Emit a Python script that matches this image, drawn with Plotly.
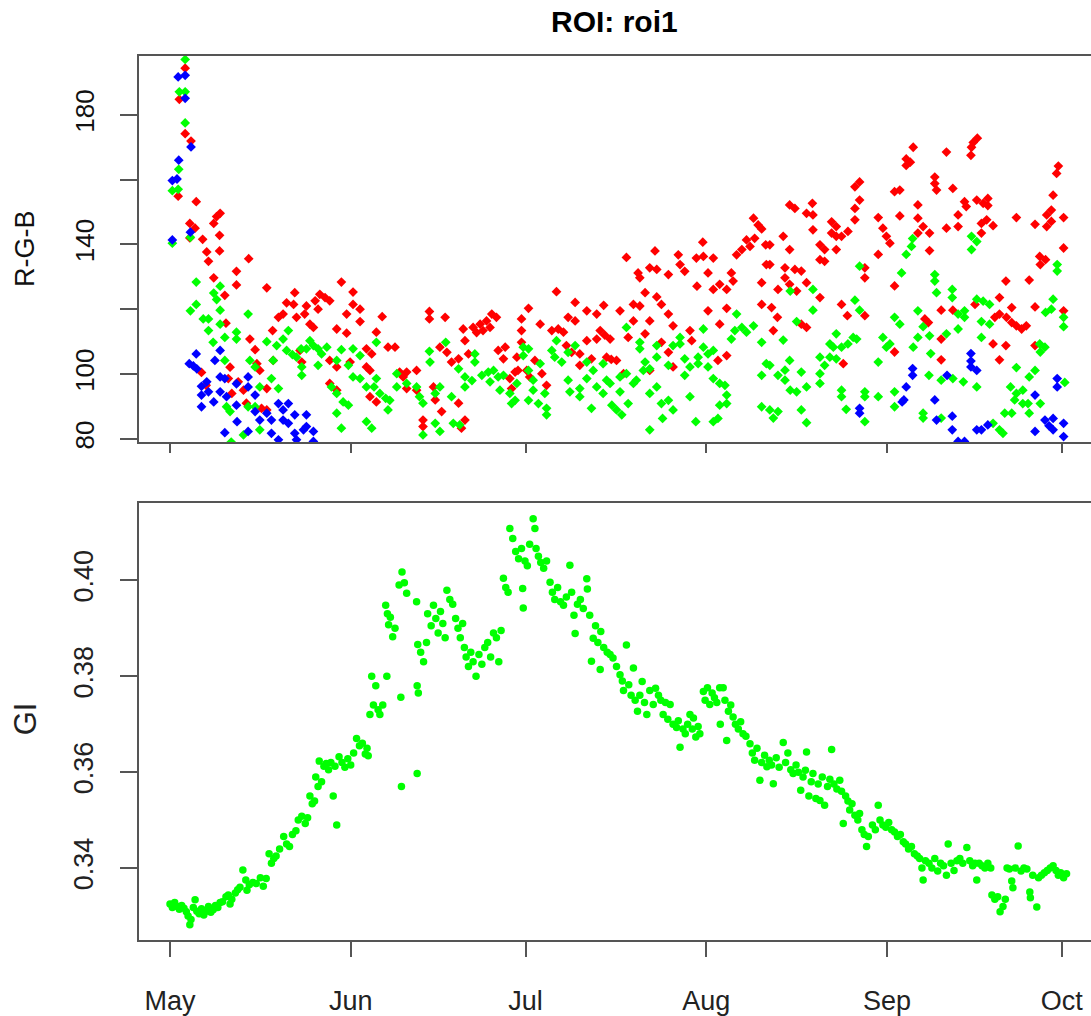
import pandas as pd
import plotly.graph_objects as go

# ---------------- data (day offset from 1 May, value) ----------------
START_DATE = "2015-05-01"
MONTH_TICKS = ["2015-05-01", "2015-06-01", "2015-07-01", "2015-08-01", "2015-09-01", "2015-10-01"]
MONTH_LABELS = ["May", "Jun", "Jul", "Aug", "Sep", "Oct"]

RGB_TICKS = [80, 100, 120, 140, 160, 180]
RGB_TICK_TEXT = ["80", "100", "", "140", "", "180"]
GI_TICKS = [0.34, 0.36, 0.38, 0.40]
GI_TICK_TEXT = ["0.34", "0.36", "0.38", "0.40"]

RED = [
    (1.4, 154.9), (1.6, 184.8), (2.6, 194.4), (2.6, 174.2), (3.6, 171.9),
    (4.5, 153.2), (3.4, 146.5), (4.3, 145.0), (3.4, 142.0), (5.6, 141.6), (7.5, 146.5), (8.0, 148.6),
    (8.6, 149.6), (8.5, 142.8), (8.5, 138.0), (6.3, 137.7), (6.6, 134.8), (7.5, 129.7), (9.4, 124.3),
    (11.4, 131.7), (11.4, 127.5), (13.5, 135.6), (16.6, 126.6), (9.6, 115.7), (13.7, 110.8), (14.6, 107.5),
    (14.9, 103.2), (15.4, 101.1), (10.3, 102.1), (10.0, 98.6), (10.6, 94.0), (11.7, 97.6), (12.6, 95.0),
    (13.1, 91.0), (15.7, 89.4), (16.6, 88.9), (16.6, 95.5), (17.6, 113.4), (17.7, 104.2), (18.6, 117.5),
    (19.4, 118.5), (20.0, 122.0), (21.4, 125.1), (21.2, 121.5), (21.7, 117.5), (23.1, 118.5), (23.4, 121.0),
    (24.0, 115.4), (24.6, 114.4), (24.9, 122.6), (25.7, 124.6), (26.6, 123.6), (27.4, 122.6), (25.4, 120.0),
    (22.3, 107.3), (22.6, 103.7), (29.4, 128.4), (31.4, 125.3), (28.6, 113.9), (30.3, 118.5), (30.3, 112.6),
    (31.4, 121.5), (32.6, 120.0), (32.6, 116.2), (27.4, 104.2), (28.6, 102.2), (27.4, 97.1), (28.6, 95.0),
    (30.9, 103.7), (33.7, 107.8), (34.6, 106.2), (33.7, 102.2), (34.3, 101.1), (35.4, 112.9), (36.4, 117.7),
    (34.3, 93.0), (35.4, 91.4), (37.4, 108.3), (38.6, 108.3), (39.4, 100.6), (40.6, 100.6), (40.0, 99.1),
    (40.6, 95.5), (42.3, 101.1), (42.3, 95.0), (43.4, 85.8), (43.4, 83.8), (44.5, 119.3), (44.5, 117.0),
    (45.2, 96.0), (45.5, 92.0), (46.3, 108.3), (47.2, 117.5), (47.5, 106.7), (46.6, 88.4), (49.5, 91.0),
    (48.3, 103.7), (49.5, 104.7), (50.3, 113.9), (50.6, 110.3), (51.2, 106.2), (50.6, 85.8), (50.0, 83.3),
    (5.4, 100.5), (6.2, 96.5),
    (52.0, 114.4), (53.2, 115.4), (54.3, 116.4), (55.2, 118.5), (56.0, 117.5), (53.7, 113.4), (54.9, 114.4),
    (52.6, 112.8), (56.3, 107.3), (57.5, 108.3), (57.2, 104.7), (58.3, 98.6), (59.2, 100.6), (59.7, 101.1),
    (58.6, 95.5), (59.5, 105.2), (60.3, 117.0), (60.3, 113.4), (61.5, 120.3), (60.3, 109.8), (61.2, 101.1),
    (61.7, 99.1), (62.6, 104.2), (63.5, 115.4), (63.8, 100.1), (64.6, 96.5), (65.5, 113.4), (66.6, 113.9),
    (67.5, 112.9), (66.3, 125.4), (68.3, 117.5), (69.5, 116.4), (69.5, 122.1), (68.0, 108.8), (68.9, 106.7),
    (70.3, 106.2), (70.3, 102.7), (71.5, 119.5), (71.5, 110.3), (72.3, 104.7), (73.2, 110.8), (73.2, 118.5),
    (74.4, 121.2), (73.8, 113.4), (74.6, 112.0), (75.5, 110.8), (74.9, 105.2), (75.7, 104.5), (76.6, 104.2),
    (77.2, 119.5), (77.8, 100.1), (78.3, 136.0), (78.6, 111.3), (79.5, 116.4), (79.5, 121.5), (80.6, 121.0),
    (80.3, 131.2), (80.6, 129.7), (81.5, 125.1), (81.5, 112.4), (82.3, 132.8), (83.5, 132.3), (83.2, 138.0),
    (82.3, 116.4), (82.3, 101.1), (83.5, 123.8), (84.3, 121.5), (84.3, 109.8), (85.5, 130.7), (85.5, 118.5),
    (86.3, 114.9), (85.5, 106.7), (86.3, 102.2), (87.2, 136.8), (87.5, 133.8), (88.3, 131.7), (89.2, 113.4),
    (89.5, 110.3), (90.3, 135.8), (90.4, 127.1), (91.4, 140.7), (91.5, 136.3), (92.3, 131.2), (93.2, 135.8),
    (92.3, 119.5), (93.2, 126.1), (94.3, 115.4), (94.0, 104.2), (95.5, 105.7), (94.3, 127.7), (95.5, 126.1),
    (95.5, 120.3), (96.3, 131.2), (96.6, 128.7), (97.2, 136.8), (98.1, 138.4), (98.9, 141.4), (99.5, 139.4),
    (100.3, 141.9), (100.1, 148.1), (100.9, 146.0), (101.5, 144.8), (102.2, 139.9), (102.3, 133.8),
    (101.5, 128.2), (101.5, 121.5),
    (102.9, 139.9), (102.9, 133.8), (105.2, 142.5), (106.3, 138.4), (105.5, 132.8), (105.5, 129.7),
    (104.3, 126.1), (103.2, 120.5), (104.2, 117.5), (103.5, 113.4), (106.3, 127.7), (107.5, 125.6),
    (107.2, 132.3), (108.3, 131.8), (109.2, 128.2), (111.5, 123.6), (106.3, 152.2), (107.2, 151.1),
    (109.2, 149.6), (110.3, 149.1), (110.2, 152.7), (110.3, 144.5), (111.5, 139.9), (112.3, 138.4),
    (111.5, 135.3), (112.3, 134.8), (113.5, 147.0), (114.3, 145.5), (113.5, 143.5), (114.3, 142.5),
    (115.2, 142.5), (116.3, 144.0), (114.3, 138.4), (108.3, 115.4), (109.2, 114.4), (115.2, 121.5),
    (116.2, 118.0), (115.5, 103.2), (117.5, 147.6), (117.5, 151.1), (118.3, 159.3), (117.5, 157.8),
    (118.3, 153.7), (119.2, 132.8), (119.2, 129.7), (119.2, 118.0), (121.5, 148.3), (121.5, 136.9),
    (122.3, 145.0), (122.9, 142.5), (123.5, 140.4), (124.3, 156.3), (125.2, 156.8), (125.2, 148.8),
    (124.3, 127.2), (124.3, 106.8), (126.3, 166.4), (127.0, 165.4), (127.5, 170.0), (126.3, 164.4),
    (128.3, 152.2), (128.3, 148.1), (129.2, 145.5), (128.3, 143.5), (130.3, 143.5), (130.3, 138.1),
    (131.2, 160.8), (131.5, 156.8), (131.2, 158.8), (133.2, 168.5), (134.3, 157.3), (133.2, 145.0),
    (135.2, 149.1), (135.2, 145.5), (136.3, 153.2), (136.6, 151.7), (137.4, 167.5), (137.5, 170.0),
    (137.8, 171.5), (138.5, 172.8), (138.4, 153.7), (139.5, 152.7), (140.3, 154.2), (140.3, 152.0),
    (139.2, 146.5), (140.1, 147.6), (141.2, 145.8), (139.2, 143.5), (132.3, 119.7), (134.3, 119.7),
    (132.3, 110.8), (132.3, 104.4), (130.1, 115.9), (129.5, 117.0), (138.1, 121.5), (141.5, 117.5),
    (142.3, 118.5), (143.5, 117.5), (144.4, 115.9), (145.2, 114.9), (146.1, 113.9), (146.9, 114.9),
    (141.2, 109.3), (142.3, 104.4), (143.4, 108.8), (143.4, 128.7), (142.3, 123.6), (144.4, 120.5),
    (145.2, 148.3), (147.4, 129.0), (148.4, 120.7), (148.4, 146.2), (148.4, 108.8), (149.2, 136.3),
    (150.2, 135.3), (149.3, 133.8), (150.4, 149.1), (150.4, 145.5), (151.2, 150.6), (151.2, 147.1),
    (151.5, 155.2), (152.1, 161.9), (152.4, 164.2), (153.3, 148.3), (153.3, 138.9), (153.3, 119.5),
]

GREEN = [
    (0.4, 140.4), (0.4, 156.6), (1.4, 157.0), (1.5, 163.2), (1.6, 187.1), (2.6, 197.1), (2.6, 187.1),
    (2.6, 177.5), (3.5, 142.2), (4.5, 128.4), (4.5, 121.5), (3.5, 119.5), (8.6, 127.1), (7.5, 125.0),
    (8.0, 123.0), (5.7, 117.0), (6.6, 117.0), (6.6, 113.4), (8.6, 119.7), (8.6, 115.4), (11.4, 112.9),
    (11.4, 110.8), (9.4, 111.3), (7.4, 109.8), (9.4, 104.2), (13.4, 118.5), (13.7, 104.2), (14.6, 102.2),
    (16.6, 110.0), (17.7, 104.2), (17.4, 98.6), (18.6, 95.5), (15.4, 96.0), (14.6, 89.9), (15.4, 82.8),
    (9.7, 89.9), (10.3, 88.4), (12.6, 81.2), (13.4, 89.9), (10.5, 79.0), (18.3, 108.8), (19.4, 110.8),
    (20.3, 113.4), (20.0, 107.3), (21.0, 106.0), (21.7, 105.2), (22.5, 107.8), (23.4, 107.8), (22.6, 102.2),
    (22.6, 99.6), (24.0, 110.3), (24.6, 108.8), (25.4, 107.8), (26.0, 106.2), (26.9, 108.3), (25.4, 102.7),
    (27.7, 96.0), (28.6, 94.0), (28.6, 87.9), (29.4, 83.3), (28.6, 104.2), (29.4, 107.5), (30.6, 102.7),
    (29.7, 91.4), (30.6, 90.4), (31.4, 107.8), (32.6, 105.7), (31.4, 99.1), (32.6, 98.6), (33.7, 96.0),
    (33.7, 85.3), (34.6, 83.3), (35.4, 109.8), (35.4, 98.6), (35.0, 96.0), (36.0, 94.0), (37.0, 92.5),
    (37.7, 91.9), (37.4, 88.9), (38.9, 100.1), (38.9, 96.0), (40.6, 97.1), (42.3, 96.0), (42.8, 93.0),
    (43.4, 91.0), (43.4, 81.2), (44.5, 107.0), (44.6, 103.7), (45.5, 94.0), (46.3, 96.0), (45.5, 84.8),
    (46.3, 82.3), (47.3, 109.8), (48.3, 93.0), (48.6, 84.8), (49.7, 84.3), (49.5, 101.6), (50.6, 99.1),
    (50.6, 96.0),
    (52.3, 106.2), (52.3, 103.7), (53.5, 99.6), (54.6, 100.6), (55.5, 101.1), (56.3, 99.1), (57.2, 99.6),
    (54.9, 97.6), (51.8, 98.0), (56.6, 95.0), (58.6, 90.9), (59.2, 91.9), (58.3, 94.0), (59.5, 97.1),
    (60.6, 108.3), (61.5, 107.8), (60.6, 105.7), (61.5, 101.1), (61.5, 91.9), (62.3, 98.1), (62.3, 95.0),
    (63.2, 90.9), (63.5, 103.2), (64.3, 94.0), (64.6, 89.4), (64.6, 87.4), (65.5, 107.3), (66.3, 110.3),
    (66.0, 105.2), (67.2, 103.7), (68.3, 106.7), (69.5, 108.8), (68.3, 98.1), (68.6, 94.5), (70.3, 95.5),
    (70.3, 93.0), (71.5, 98.6), (71.5, 103.7), (72.6, 101.1), (73.2, 96.0), (72.3, 89.4), (74.3, 94.0),
    (74.3, 103.2), (74.9, 98.1), (75.5, 97.1), (75.8, 90.4), (76.6, 88.9), (77.5, 87.4), (77.2, 99.1),
    (77.2, 94.5), (78.3, 114.4), (78.3, 100.1), (78.6, 90.9), (79.5, 97.1), (80.0, 98.1), (80.6, 109.8),
    (80.6, 107.8), (81.5, 103.7), (81.2, 101.1), (82.3, 101.6), (82.3, 94.0), (82.3, 82.8), (83.5, 96.0),
    (83.5, 108.8), (83.5, 105.2), (84.3, 90.9), (84.5, 86.3), (85.5, 91.9), (86.3, 88.9), (85.5, 102.7),
    (86.3, 108.8), (87.5, 111.3), (87.5, 109.3), (88.3, 104.7), (88.3, 99.6), (89.2, 102.2), (89.2, 93.0),
    (90.2, 85.3), (90.6, 105.2), (90.6, 103.2), (91.5, 113.9), (91.5, 108.3), (92.3, 106.2), (92.3, 102.2),
    (93.2, 107.3), (93.2, 98.6), (94.3, 97.1), (95.2, 96.5), (94.3, 90.4), (95.5, 93.5), (95.5, 90.9),
    (93.2, 85.3), (94.0, 86.3), (96.3, 110.8), (97.2, 118.5), (96.9, 113.4), (98.1, 114.4), (98.9, 112.9),
    (100.1, 114.9), (101.5, 109.8), (101.5, 99.6), (102.3, 103.2), (101.5, 89.9),
    (102.9, 102.7), (104.3, 99.6), (102.9, 88.9), (103.5, 86.4), (104.3, 88.4), (105.2, 110.5),
    (106.3, 104.2), (105.5, 101.2), (105.5, 98.1), (106.4, 125.6), (107.5, 116.2), (106.4, 95.0),
    (107.5, 94.5), (108.3, 100.6), (108.3, 88.9), (109.2, 85.0), (109.2, 96.0), (110.3, 119.7),
    (110.3, 126.1), (111.5, 105.2), (111.5, 100.1), (111.5, 97.1), (112.3, 102.7), (113.2, 109.3),
    (114.3, 112.4), (113.8, 108.3), (113.2, 105.2), (114.3, 104.7), (115.2, 108.3), (116.3, 109.3),
    (117.2, 111.3), (117.8, 110.8), (115.2, 95.0), (115.2, 93.0), (116.0, 89.1), (117.5, 122.8),
    (118.3, 133.3), (118.3, 119.7), (119.2, 94.5), (119.2, 93.0), (119.2, 85.3), (121.5, 93.0),
    (121.5, 103.7), (122.3, 111.3), (122.9, 108.3), (123.5, 109.3), (124.3, 117.5), (125.2, 115.4),
    (124.3, 94.5), (124.3, 89.9), (125.5, 131.2), (126.3, 136.9), (127.2, 139.4), (127.4, 141.8),
    (127.5, 108.3), (128.3, 111.3), (128.3, 119.5), (129.2, 114.6), (130.3, 111.8), (130.5, 106.3),
    (129.2, 87.9), (129.2, 86.4), (131.2, 130.7), (131.2, 128.7), (131.5, 125.1), (130.2, 99.6),
    (132.3, 98.1), (132.3, 86.4), (133.2, 112.4), (134.3, 98.6), (134.2, 126.1), (134.2, 123.6),
    (135.2, 118.5), (135.2, 113.9), (136.3, 119.5), (136.3, 117.5), (136.1, 97.6), (138.4, 96.0),
    (137.5, 142.5), (137.5, 138.4), (138.4, 140.9), (138.4, 123.1), (139.5, 122.5), (140.6, 121.5),
    (139.2, 116.2), (140.6, 115.4), (139.2, 111.3), (141.2, 84.8), (142.3, 82.8), (142.9, 81.7),
    (143.2, 87.9), (144.4, 87.9), (144.2, 96.0), (145.2, 94.0), (145.2, 102.0), (146.3, 95.0),
    (144.9, 92.0), (146.3, 90.9), (147.2, 90.9), (147.4, 87.9), (147.4, 99.1), (148.4, 101.1),
    (149.3, 90.9), (149.2, 109.3), (150.1, 108.3), (149.3, 106.8), (150.2, 119.0), (151.2, 120.0),
    (151.5, 123.1), (152.2, 133.8), (152.2, 131.8), (153.3, 117.5), (153.3, 114.6), (153.5, 97.4),
]

BLUE = [
    (0.4, 141.4), (0.4, 159.7), (1.2, 160.2), (1.5, 166.0), (1.4, 191.7), (2.6, 192.2), (2.6, 185.1),
    (3.6, 170.1), (3.5, 143.8), (4.5, 106.2), (3.3, 103.2), (4.0, 102.5), (4.6, 101.6), (8.6, 107.3),
    (7.7, 104.2), (5.4, 96.2), (6.3, 97.6), (5.4, 93.5), (6.6, 94.5), (5.4, 89.9), (7.5, 91.4),
    (8.6, 99.1), (9.4, 98.6), (8.6, 94.5), (9.7, 93.0), (11.4, 97.0), (11.4, 90.4), (13.4, 99.1),
    (13.4, 96.0), (9.4, 81.9), (11.5, 85.3), (13.4, 82.3), (14.6, 93.5), (14.6, 88.4), (15.4, 85.8),
    (16.6, 87.9), (17.4, 85.8), (17.4, 81.7), (18.6, 90.9), (19.4, 88.9), (19.4, 85.8), (20.3, 90.9),
    (20.3, 84.8), (18.6, 79.7), (21.4, 87.4), (21.4, 81.7), (21.7, 79.7), (23.4, 87.4), (23.4, 83.8),
    (22.9, 82.8), (24.6, 82.3), (24.6, 79.2),
    (118.3, 89.4), (118.3, 87.9), (125.6, 91.4), (125.9, 92.0), (126.3, 96.0), (127.4, 101.7),
    (127.4, 99.6), (131.2, 92.0), (131.5, 85.8), (134.2, 87.0), (134.2, 82.8), (133.3, 99.6),
    (137.4, 106.3), (137.4, 104.0), (137.4, 102.2), (138.4, 101.1), (138.4, 82.8), (139.2, 82.8),
    (140.3, 84.3), (135.2, 79.2), (136.3, 79.2), (148.4, 93.5), (148.4, 82.3), (150.1, 85.8),
    (150.8, 84.0), (151.5, 82.8), (151.5, 86.3), (152.2, 98.6), (152.2, 96.0), (153.3, 84.8),
    (153.3, 80.7),
]

GI = [
    (0.0, 0.3325), (0.4, 0.3318), (0.8, 0.3328), (1.2, 0.3320), (1.6, 0.3314), (2.0, 0.3322), (2.4, 0.3316),
    (2.8, 0.3309), (3.1, 0.3300), (3.4, 0.3282), (3.6, 0.3293), (4.0, 0.3318), (4.3, 0.3334), (4.6, 0.3310),
    (5.0, 0.3305), (5.4, 0.3315), (5.8, 0.3302), (6.2, 0.3310), (6.6, 0.3320), (7.0, 0.3308), (7.4, 0.3313),
    (7.8, 0.3322), (8.2, 0.3318), (8.6, 0.3328), (9.0, 0.3330), (9.6, 0.3340), (10.0, 0.3344), (10.3, 0.3325),
    (10.6, 0.3335), (11.2, 0.3348), (11.6, 0.3355), (12.0, 0.3360), (12.5, 0.3396), (13.0, 0.3375),
    (13.2, 0.3354), (13.6, 0.3365), (14.2, 0.3370), (14.8, 0.3368), (15.5, 0.3380), (16.0, 0.3362),
    (16.5, 0.3378), (17.0, 0.3430), (17.4, 0.3410), (17.8, 0.3420), (18.2, 0.3425), (18.8, 0.3440),
    (19.5, 0.3466), (20.0, 0.3450), (20.5, 0.3445), (21.0, 0.3470), (21.6, 0.3478), (22.0, 0.3500),
    (22.6, 0.3508), (23.2, 0.3493), (23.6, 0.3505), (24.0, 0.3550), (24.4, 0.3534), (24.8, 0.3540),
    (25.0, 0.3590), (25.4, 0.3570), (25.6, 0.3623), (26.0, 0.3580), (26.4, 0.3612), (26.8, 0.3618),
    (27.2, 0.3605), (27.6, 0.3620), (28.0, 0.3550), (28.3, 0.3612), (28.6, 0.3490), (29.0, 0.3632),
    (29.5, 0.3620), (30.0, 0.3610), (30.5, 0.3628), (31.0, 0.3615), (31.5, 0.3640), (32.0, 0.3670),
    (32.5, 0.3655), (33.0, 0.3660), (33.5, 0.3638), (33.8, 0.3650), (34.0, 0.3634), (34.3, 0.3720),
    (34.6, 0.3800), (34.9, 0.3740), (35.3, 0.3780), (35.7, 0.3730), (36.0, 0.3720), (36.5, 0.3740),
    (37.0, 0.3948), (37.3, 0.3930), (37.2, 0.3800), (37.5, 0.3907), (37.8, 0.3923), (38.2, 0.3882),
    (38.6, 0.3900), (39.3, 0.3990), (39.6, 0.3756), (39.7, 0.3570), (39.8, 0.4017), (40.2, 0.3995),
    (40.6, 0.3973), (42.3, 0.3955), (42.4, 0.3597), (42.4, 0.3780), (42.6, 0.3765), (42.5, 0.3866),
    (43.0, 0.3850), (43.5, 0.3830), (44.0, 0.3870), (44.2, 0.3930), (44.8, 0.3905), (45.2, 0.3948),
    (45.6, 0.3920), (46.0, 0.3890), (46.4, 0.3935), (46.8, 0.3910), (47.2, 0.3880), (47.5, 0.3979),
    (48.0, 0.3960), (48.5, 0.3950), (49.0, 0.3920), (49.4, 0.3900), (49.8, 0.3880), (50.2, 0.3910),
    (50.5, 0.3860), (50.8, 0.3840), (51.2, 0.3820), (51.6, 0.3850), (52.0, 0.3830), (52.5, 0.3800),
    (53.0, 0.3845), (53.5, 0.3825), (54.0, 0.3860), (54.5, 0.3870), (55.0, 0.3840), (55.5, 0.3890),
    (56.0, 0.3880), (56.4, 0.3830), (56.8, 0.3895), (57.2, 0.4004), (57.6, 0.3985), (58.0, 0.3975),
    (58.3, 0.4108), (58.8, 0.4087), (59.3, 0.4060), (59.8, 0.4045), (60.3, 0.4066), (60.5, 0.3983),
    (60.6, 0.3942), (60.9, 0.4040), (61.3, 0.4030), (61.7, 0.4075), (62.3, 0.4128), (62.6, 0.4108),
    (62.8, 0.4066), (63.2, 0.4050), (63.6, 0.4037), (64.1, 0.4025), (64.6, 0.4040),
    (65.2, 0.3996), (65.6, 0.3975), (66.0, 0.3960), (66.5, 0.3985), (67.0, 0.3955), (67.5, 0.3948),
    (68.0, 0.3965), (68.6, 0.4031), (68.9, 0.3975), (69.3, 0.3927), (69.5, 0.3889), (69.9, 0.3950),
    (70.4, 0.3960), (70.9, 0.3941), (71.5, 0.4003), (71.6, 0.3982), (72.0, 0.3927), (72.3, 0.3831),
    (72.6, 0.3879), (73.0, 0.3905), (73.4, 0.3870), (73.8, 0.3814), (73.9, 0.3893), (74.4, 0.3860),
    (75.0, 0.3850), (75.5, 0.3845), (76.0, 0.3838), (76.6, 0.3820), (77.2, 0.3803), (77.6, 0.3790),
    (77.8, 0.3770), (78.3, 0.3865), (78.7, 0.3782), (79.1, 0.3760), (79.5, 0.3817), (79.8, 0.3750),
    (80.2, 0.3727), (80.6, 0.3760), (81.0, 0.3789), (81.4, 0.3745), (81.8, 0.3720), (82.3, 0.3770),
    (82.9, 0.3741), (83.3, 0.3775), (83.8, 0.3760), (84.2, 0.3750), (84.6, 0.3720), (85.0, 0.3745),
    (85.4, 0.3710), (85.8, 0.3741), (86.3, 0.3700), (86.9, 0.3693), (87.2, 0.3707), (87.5, 0.3652),
    (88.0, 0.3690), (88.4, 0.3680), (88.8, 0.3700), (89.2, 0.3720), (89.6, 0.3690), (89.8, 0.3713),
    (90.2, 0.3673), (90.6, 0.3695), (90.9, 0.3680), (91.5, 0.3768), (91.8, 0.3750), (92.2, 0.3776),
    (92.6, 0.3741), (93.0, 0.3765), (93.4, 0.3755), (93.8, 0.3745), (94.3, 0.3776), (94.4, 0.3700),
    (94.9, 0.3776), (95.2, 0.3750), (95.5, 0.3666), (95.8, 0.3727), (96.2, 0.3740), (96.6, 0.3715),
    (97.0, 0.3700), (97.5, 0.3690), (97.9, 0.3705), (98.3, 0.3680), (98.8, 0.3675), (99.5, 0.3659),
    (99.9, 0.3640), (100.3, 0.3625), (100.7, 0.3650), (101.2, 0.3583), (101.5, 0.3620), (102.0, 0.3635),
    (102.4, 0.3611), (102.8, 0.3625), (103.2, 0.3615), (103.5, 0.3576), (104.0, 0.3630), (104.5, 0.3610),
    (105.2, 0.3662), (105.6, 0.3620), (106.0, 0.3640), (106.5, 0.3605), (106.9, 0.3597), (107.4, 0.3615),
    (107.8, 0.3600), (108.2, 0.3562), (108.6, 0.3590), (109.0, 0.3604), (109.2, 0.3642), (109.6, 0.3550),
    (110.0, 0.3580), (110.3, 0.3597), (110.8, 0.3545), (111.2, 0.3575), (111.5, 0.3541), (111.9, 0.3590),
    (112.3, 0.3531), (112.8, 0.3570), (113.2, 0.3585), (113.5, 0.3647), (113.9, 0.3575), (114.4, 0.3565),
    (114.9, 0.3583), (115.2, 0.3560), (115.5, 0.3493), (115.9, 0.3550), (116.3, 0.3540), (116.6, 0.3521),
    (117.0, 0.3534), (117.5, 0.3510), (118.0, 0.3500), (118.3, 0.3514), (118.7, 0.3480), (119.1, 0.3470),
    (119.5, 0.3445), (119.8, 0.3466), (120.5, 0.3490), (121.0, 0.3480), (121.5, 0.3531), (121.8, 0.3500),
    (122.3, 0.3490), (122.8, 0.3485), (123.3, 0.3495), (123.8, 0.3480), (124.3, 0.3475), (124.8, 0.3466),
    (125.3, 0.3470), (125.8, 0.3455), (126.2, 0.3450), (126.7, 0.3440), (127.2, 0.3445), (127.7, 0.3430),
    (128.2, 0.3425), (128.6, 0.3420), (129.0, 0.3400), (129.2, 0.3375), (129.6, 0.3415), (130.2, 0.3410),
    (130.7, 0.3400), (131.2, 0.3420), (131.7, 0.3394), (132.2, 0.3410), (132.7, 0.3405), (133.2, 0.3385),
    (133.5, 0.3450), (134.0, 0.3410), (134.5, 0.3395), (135.0, 0.3415), (135.5, 0.3420), (136.0, 0.3410),
    (136.7, 0.3443), (137.2, 0.3415), (137.7, 0.3405), (138.1, 0.3410), (138.4, 0.3375), (138.8, 0.3410),
    (139.3, 0.3405), (139.8, 0.3400), (140.3, 0.3410), (140.8, 0.3400), (141.0, 0.3344), (141.5, 0.3335),
    (142.0, 0.3340), (142.4, 0.3309), (142.9, 0.3320), (143.3, 0.3335), (143.6, 0.3400), (144.0, 0.3398),
    (144.4, 0.3373), (144.6, 0.3359), (145.0, 0.3400), (145.5, 0.3446), (146.0, 0.3394), (146.5, 0.3400),
    (147.0, 0.3398), (147.5, 0.3350), (147.6, 0.3338), (148.0, 0.3385), (148.7, 0.3319), (149.0, 0.3380),
    (149.5, 0.3385), (150.0, 0.3390), (150.5, 0.3395), (151.0, 0.3400), (151.5, 0.3405), (152.0, 0.3395),
    (152.4, 0.3385), (152.8, 0.3390), (153.3, 0.3380), (153.8, 0.3388),
]

# ---------------- helpers ----------------
base = pd.Timestamp(START_DATE)


def to_xy(points):
    days = [p[0] for p in points]
    vals = [p[1] for p in points]
    return base + pd.to_timedelta(days, unit="D"), vals


FIG_W, FIG_H = 1091, 1016
FONT = "Liberation Sans, Arial, sans-serif"
LINE_C = "#555555"

fig = go.Figure()

for pts, col in [(RED, "#FF0000"), (GREEN, "#00FF00"), (BLUE, "#0000FF")]:
    x, y = to_xy(pts)
    fig.add_trace(go.Scatter(x=x, y=y, mode="markers", xaxis="x", yaxis="y",
                             marker=dict(symbol="diamond", size=7.5, color=col, line=dict(width=0)),
                             showlegend=False, hoverinfo="skip"))

x, y = to_xy(GI)
fig.add_trace(go.Scatter(x=x, y=y, mode="markers", xaxis="x2", yaxis="y2",
                         marker=dict(symbol="circle", size=7.5, color="#00FF00", line=dict(width=0)),
                         showlegend=False, hoverinfo="skip"))

x_range = [base + pd.Timedelta(days=-5.32), base + pd.Timedelta(days=158.0)]
tick_x = [pd.Timestamp(t) for t in MONTH_TICKS]

common_x = dict(type="date", range=x_range, tickmode="array", tickvals=tick_x,
                showline=True, linecolor=LINE_C, linewidth=1.6, mirror=True,
                ticks="outside", tickwidth=1.5, tickcolor=LINE_C,
                showgrid=False, zeroline=False)


def px_to_paper_y(py):
    return 1 - py / FIG_H


fig.update_layout(
    width=FIG_W, height=FIG_H,
    margin=dict(l=139, r=0, t=0, b=0),
    paper_bgcolor="white", plot_bgcolor="white",
    font=dict(family=FONT, color="#000000"),
    xaxis=dict(**common_x, anchor="y", showticklabels=False, ticklen=9),
    yaxis=dict(domain=[px_to_paper_y(446), px_to_paper_y(56)], range=[78.87, 198.3],
               tickmode="array", tickvals=RGB_TICKS, ticktext=RGB_TICK_TEXT,
               tickangle=-90, tickfont=dict(size=26, color="#111111"), ticklabelstandoff=16,
               showline=True, linecolor=LINE_C, linewidth=1.6, mirror=False,
               ticks="outside", ticklen=17, tickwidth=1.5, tickcolor=LINE_C,
               showgrid=False, zeroline=False),
    xaxis2=dict(**common_x, anchor="y2", ticktext=MONTH_LABELS, ticklen=16,
                tickfont=dict(size=27, color="#222222"), ticklabelstandoff=20),
    yaxis2=dict(domain=[px_to_paper_y(947), px_to_paper_y(507)], range=[0.3251, 0.4161],
                tickmode="array", tickvals=GI_TICKS, ticktext=GI_TICK_TEXT,
                tickangle=-90, tickfont=dict(size=27, color="#222222"), ticklabelstandoff=16,
                showline=True, linecolor=LINE_C, linewidth=1.6, mirror=False,
                ticks="outside", ticklen=17, tickwidth=1.5, tickcolor=LINE_C,
                showgrid=False, zeroline=False),
)

plot_w = FIG_W - 139
fig.add_annotation(text="<b>ROI: roi1</b>", xref="paper", yref="paper",
                   x=(614 - 139) / plot_w, y=px_to_paper_y(22), xanchor="center", yanchor="middle",
                   showarrow=False, font=dict(size=30, family=FONT, color="#000000"))
fig.add_annotation(text="R-G-B", xref="paper", yref="paper",
                   x=(25 - 139) / plot_w, y=px_to_paper_y(251), xanchor="center", yanchor="middle",
                   textangle=-90, showarrow=False, font=dict(size=27, family=FONT, color="#111111"))
fig.add_annotation(text="GI", xref="paper", yref="paper",
                   x=(25 - 139) / plot_w, y=px_to_paper_y(725), xanchor="center", yanchor="middle",
                   textangle=-90, showarrow=False, font=dict(size=31, family=FONT, color="#222222"))

fig.write_html("out.html")
